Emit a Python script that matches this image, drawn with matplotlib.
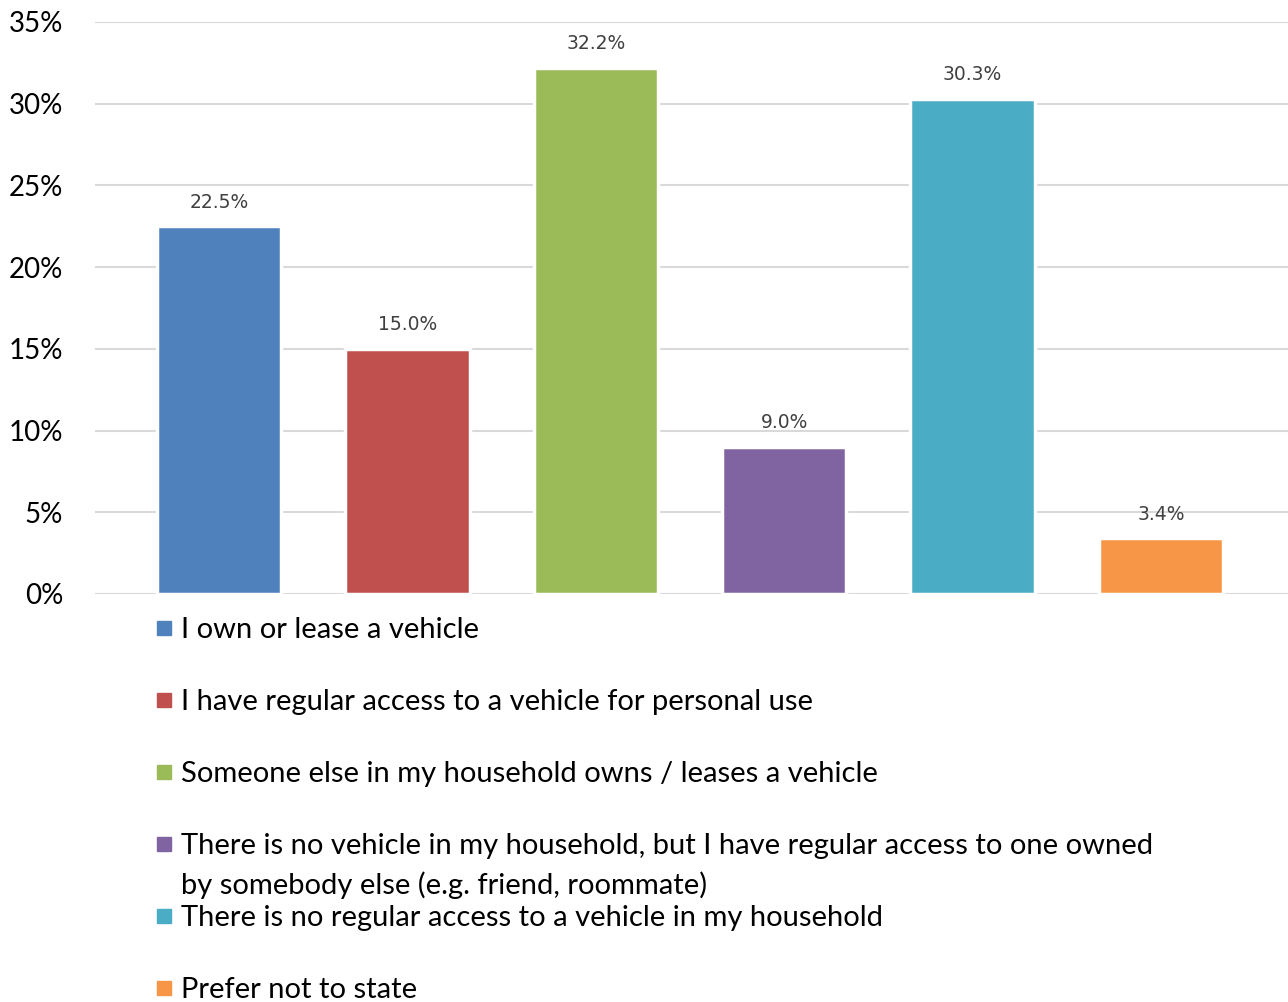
import matplotlib
matplotlib.use("Agg")
import matplotlib.pyplot as plt
from matplotlib.patches import Rectangle
from matplotlib.ticker import PercentFormatter

labels = [
    "I own or lease a vehicle",
    "I have regular access to a vehicle for personal use",
    "Someone else in my household owns / leases a vehicle",
    "There is no vehicle in my household, but I have regular access to one owned\nby somebody else (e.g. friend, roommate)",
    "There is no regular access to a vehicle in my household",
    "Prefer not to state",
]
shares = [22.5, 15.0, 32.2, 9.0, 30.3, 3.4]
colors = ["#4F81BD", "#C0504D", "#9BBB59", "#8064A2", "#4BACC6", "#F79646"]
yticks = [0, 5, 10, 15, 20, 25, 30, 35]

W, H = 1288, 1002
fig = plt.figure(figsize=(W / 100, H / 100), dpi=100)
ax = fig.add_axes([95 / W, 1 - 594 / H, 1 - 95 / W, (594 - 22) / H])

x = range(len(shares))
bars = ax.bar(x, shares, width=0.66, color=colors, edgecolor="white",
              linewidth=2.5, zorder=3)
for xi, v in zip(x, shares):
    ax.text(xi, v + 0.9, f"{v:.1f}%", ha="center", va="bottom",
            fontsize=13.5, color="#404040", family="DejaVu Sans")

ax.set_xlim(-0.658, len(shares) - 1 + 0.674)
ax.set_ylim(0, 35)
ax.set_yticks(yticks)
ax.yaxis.set_major_formatter(PercentFormatter(decimals=0))
ax.set_xticks([])
ax.grid(axis="y", color="#D9D9D9", linewidth=1.5, zorder=0)
for s in ax.spines.values():
    s.set_visible(False)
ax.tick_params(axis="y", length=0, pad=23, labelsize=20)
for t in ax.get_yticklabels():
    t.set_family("Lato")

# legend below the plot area, one row per category
y0, step, line_gap = 628, 72, 39
for i, (lab, c) in enumerate(zip(labels, colors)):
    yc = y0 + i * step
    fig.patches.append(Rectangle((157 / W, 1 - (yc + 7) / H), 14 / W, 14 / H,
                                 transform=fig.transFigure, color=c))
    for j, line in enumerate(lab.split("\n")):
        fig.text(181 / W, 1 - (yc + 2 + j * line_gap) / H, line, ha="left",
                 va="center", fontsize=21, family="Lato", color="black")

fig.savefig("out.png", dpi=100)
